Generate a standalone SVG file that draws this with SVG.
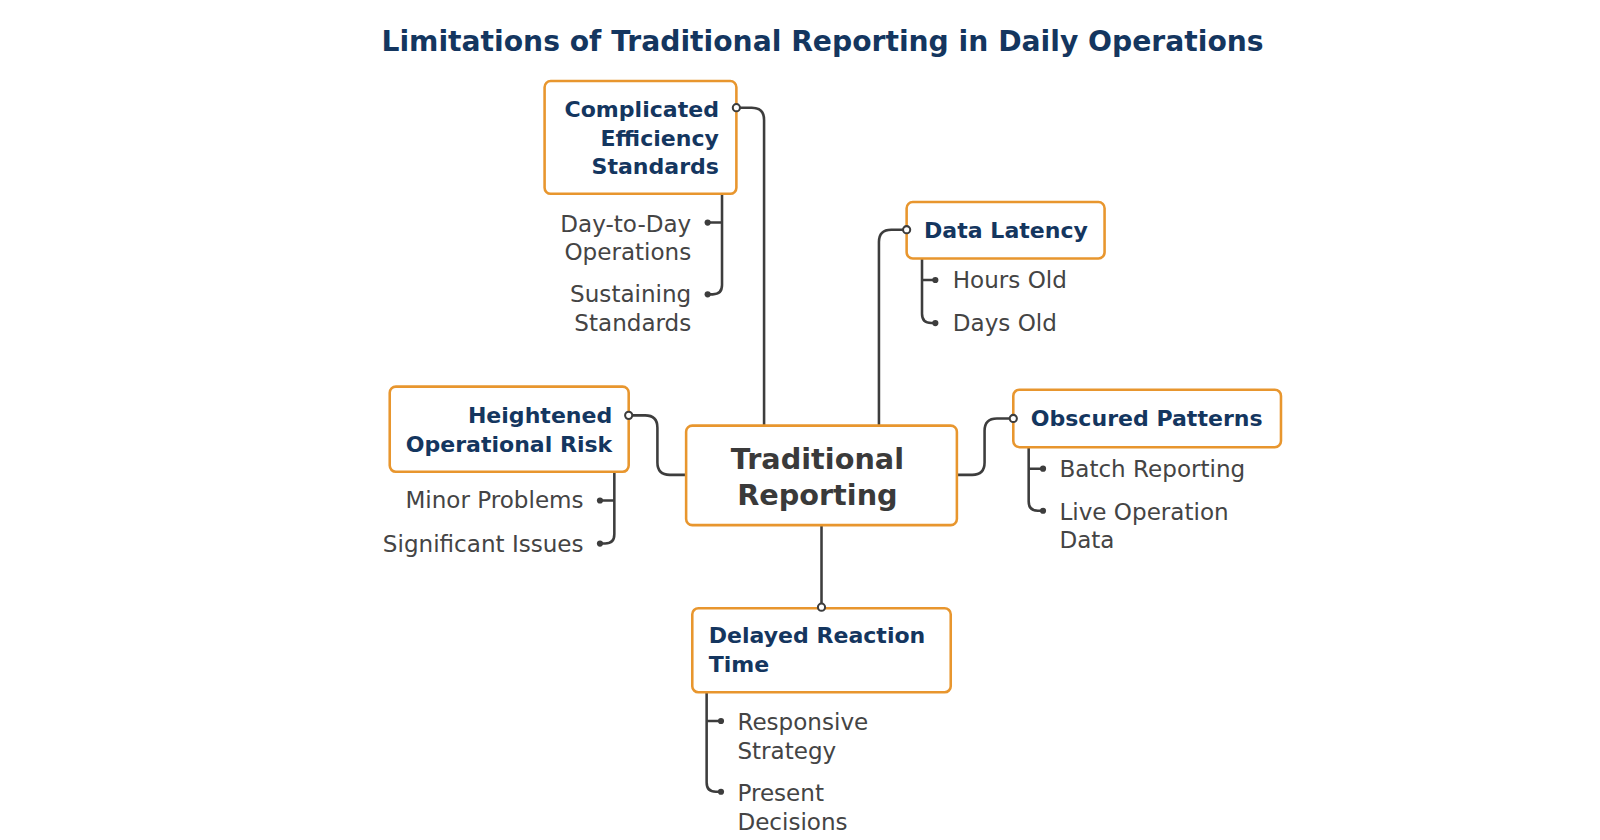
<svg xmlns="http://www.w3.org/2000/svg" width="1600" height="840" viewBox="0 0 1600 840">
<style>
.box{fill:#fff;stroke:#e8962e;stroke-width:2.5}
.h{font-family:"DejaVu Sans",sans-serif;font-weight:bold;font-size:21.5px;fill:#14365f;dominant-baseline:central}
.t{font-family:"DejaVu Sans",sans-serif;font-size:22.5px;fill:#444;dominant-baseline:central}
.c{fill:none;stroke:#3d3d3d;stroke-width:2.5}
.o{fill:#fff;stroke:#3d3d3d;stroke-width:2}
.d{fill:#3d3d3d}
</style>
<rect width="1600" height="840" fill="#fff"/>
<g transform="scale(1.0256)">
<text x="802" y="40" text-anchor="middle" style="font-family:'DejaVu Sans',sans-serif;font-weight:bold;font-size:27.5px;fill:#14365f;dominant-baseline:central">Limitations of Traditional Reporting in Daily Operations</text>
<g id="connectors">
<path class="c" d="M745 415 V117 Q745 105 733 105 H718"/>
<path class="c" d="M704 189 V278 Q704 287 695 287 H690 M704 217 H690"/>
<path class="c" d="M857 415 V236 Q857 224 869 224 H884"/>
<path class="c" d="M899 252 V306 Q899 315 908 315 H912 M899 273 H912"/>
<path class="c" d="M669 463 H653 Q641 463 641 451 V417 Q641 405 629 405 H613"/>
<path class="c" d="M599 460 V521 Q599 530 590 530 H585 M599 488 H585"/>
<path class="c" d="M933 463 H948 Q960 463 960 451 V420 Q960 408 972 408 H988"/>
<path class="c" d="M1003 436 V489 Q1003 498 1012 498 H1017 M1003 457 H1017"/>
<path class="c" d="M801 512 V592"/>
<path class="c" d="M689 675 V763 Q689 772 698 772 H703 M689 703 H703"/>
<circle class="d" cx="690" cy="217" r="3"/><circle class="d" cx="690" cy="287" r="3"/>
<circle class="d" cx="912" cy="273" r="3"/><circle class="d" cx="912" cy="315" r="3"/>
<circle class="d" cx="585" cy="488" r="3"/><circle class="d" cx="585" cy="530" r="3"/>
<circle class="d" cx="1017" cy="457" r="3"/><circle class="d" cx="1017" cy="498" r="3"/>
<circle class="d" cx="703" cy="703" r="3"/><circle class="d" cx="703" cy="772" r="3"/>
</g>
<g id="center">
<rect class="box" x="669" y="415" width="264" height="97" rx="6"/>
<text x="797" y="448" text-anchor="middle" style="font-family:'DejaVu Sans',sans-serif;font-weight:bold;font-size:28px;fill:#3a3a3a;dominant-baseline:central">Traditional</text>
<text x="797" y="483" text-anchor="middle" style="font-family:'DejaVu Sans',sans-serif;font-weight:bold;font-size:28px;fill:#3a3a3a;dominant-baseline:central">Reporting</text>
</g>
<g id="complicated">
<rect class="box" x="531" y="79" width="187" height="110" rx="6"/>
<text class="h" x="701" y="107" text-anchor="end">Complicated</text>
<text class="h" x="701" y="135" text-anchor="end">Efficiency</text>
<text class="h" x="701" y="162" text-anchor="end">Standards</text>
<circle class="o" cx="718" cy="105" r="3.5"/>
<text class="t" x="674" y="218" text-anchor="end">Day-to-Day</text>
<text class="t" x="674" y="246" text-anchor="end">Operations</text>
<text class="t" x="674" y="287" text-anchor="end">Sustaining</text>
<text class="t" x="674" y="315" text-anchor="end">Standards</text>
</g>
<g id="latency">
<rect class="box" x="884" y="197" width="193" height="55" rx="6"/>
<text class="h" x="901" y="225">Data Latency</text>
<circle class="o" cx="884" cy="224" r="3.5"/>
<text class="t" x="929" y="273">Hours Old</text>
<text class="t" x="929" y="315">Days Old</text>
</g>
<g id="risk">
<rect class="box" x="380" y="377" width="233" height="83" rx="6"/>
<text class="h" x="597" y="405" text-anchor="end">Heightened</text>
<text class="h" x="597" y="433" text-anchor="end">Operational Risk</text>
<circle class="o" cx="613" cy="405" r="3.5"/>
<text class="t" x="569" y="488" text-anchor="end">Minor Problems</text>
<text class="t" x="569" y="530" text-anchor="end">Significant Issues</text>
</g>
<g id="obscured">
<rect class="box" x="988" y="380" width="261" height="56" rx="6"/>
<text class="h" x="1005" y="408">Obscured Patterns</text>
<circle class="o" cx="988" cy="408" r="3.5"/>
<text class="t" x="1033" y="457">Batch Reporting</text>
<text class="t" x="1033" y="499">Live Operation</text>
<text class="t" x="1033" y="527">Data</text>
</g>
<g id="delayed">
<rect class="box" x="675" y="593" width="252" height="82" rx="6"/>
<text class="h" x="691" y="620">Delayed Reaction</text>
<text class="h" x="691" y="648">Time</text>
<circle class="o" cx="801" cy="592" r="3.5"/>
<text class="t" x="719" y="704">Responsive</text>
<text class="t" x="719" y="732">Strategy</text>
<text class="t" x="719" y="773">Present</text>
<text class="t" x="719" y="801">Decisions</text>
</g>
</g>
</svg>
